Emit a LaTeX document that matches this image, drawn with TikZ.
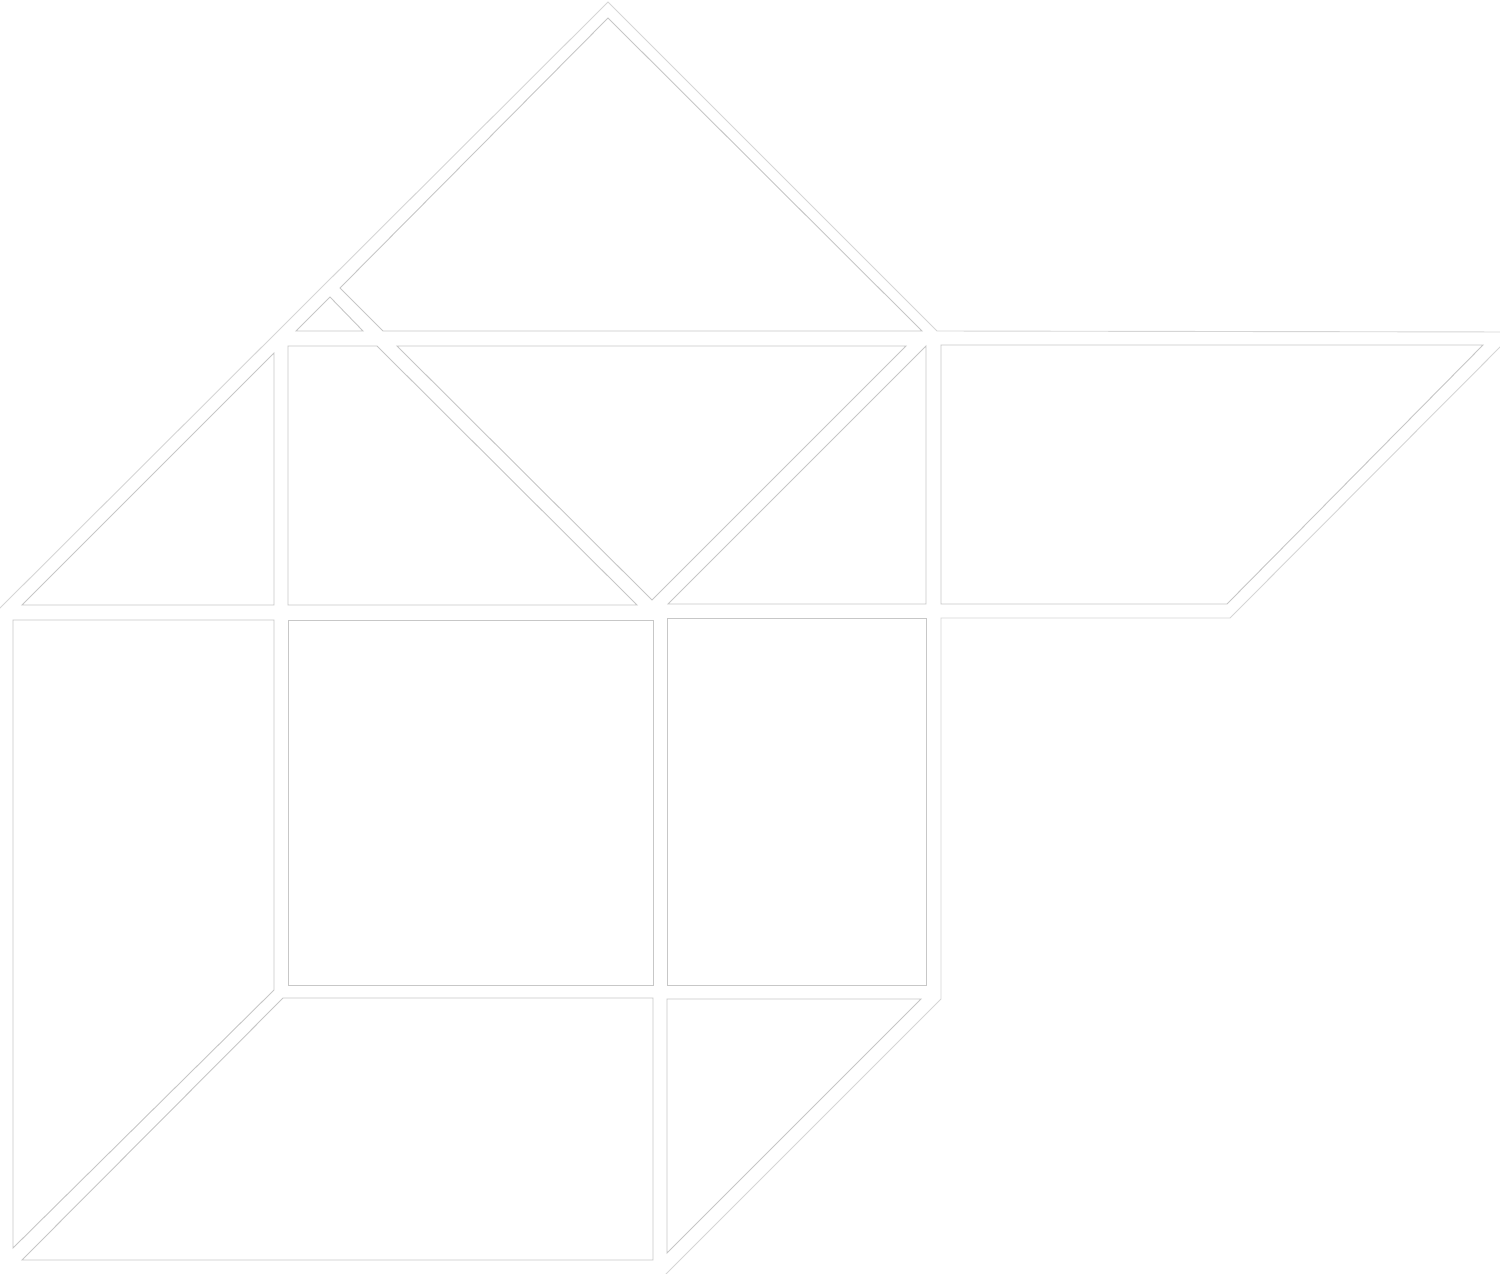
\documentclass[tikz,border=0pt]{standalone}
\begin{document}
\begin{tikzpicture}[x=1pt,y=-1pt,
  piece/.style={draw=black!22,line width=0.9pt,line join=miter,fill=white},
  outline/.style={draw=black!16,line width=0.9pt,line join=miter}]
\fill[white] (0,0) rectangle (1500,1274);
\useasboundingbox (0,0) rectangle (1500,1274);
% outer silhouette line
\draw[outline] (-10,618) -- (608,2) -- (937,331) -- (1515,332) -- (1230,618) -- (941,618) -- (941,999) -- (665,1275);
% top triangle
\draw[piece] (608,18) -- (922,331) -- (383,331) -- (340,288) -- cycle;
% small triangle
\draw[piece] (296,331) -- (330,297) -- (363,331) -- cycle;
% left triangle
\draw[piece] (22,605) -- (274,353) -- (274,605) -- cycle;
% trapezoid
\draw[piece] (288,346) -- (377,346) -- (637,605) -- (288,605) -- cycle;
% inverted middle triangle
\draw[piece] (397,346) -- (906,346) -- (652,600) -- cycle;
% right middle triangle
\draw[piece] (926,346) -- (926,604) -- (668,604) -- cycle;
% right parallelogram
\draw[piece] (941,345) -- (1483,345) -- (1227,604) -- (941,604) -- cycle;
% left piece
\draw[piece] (13,620) -- (274,620) -- (274,990) -- (13,1248) -- cycle;
% centre square
\draw[piece] (288,620) -- (653,620) -- (653,985) -- (288,985) -- cycle;
% right rectangle
\draw[piece] (667,618) -- (926,618) -- (926,985) -- (667,985) -- cycle;
% bottom parallelogram
\draw[piece] (283,998) -- (653,998) -- (653,1260) -- (22,1260) -- cycle;
% bottom right triangle
\draw[piece] (667,999) -- (921,999) -- (667,1253) -- cycle;
\end{tikzpicture}
\end{document}
